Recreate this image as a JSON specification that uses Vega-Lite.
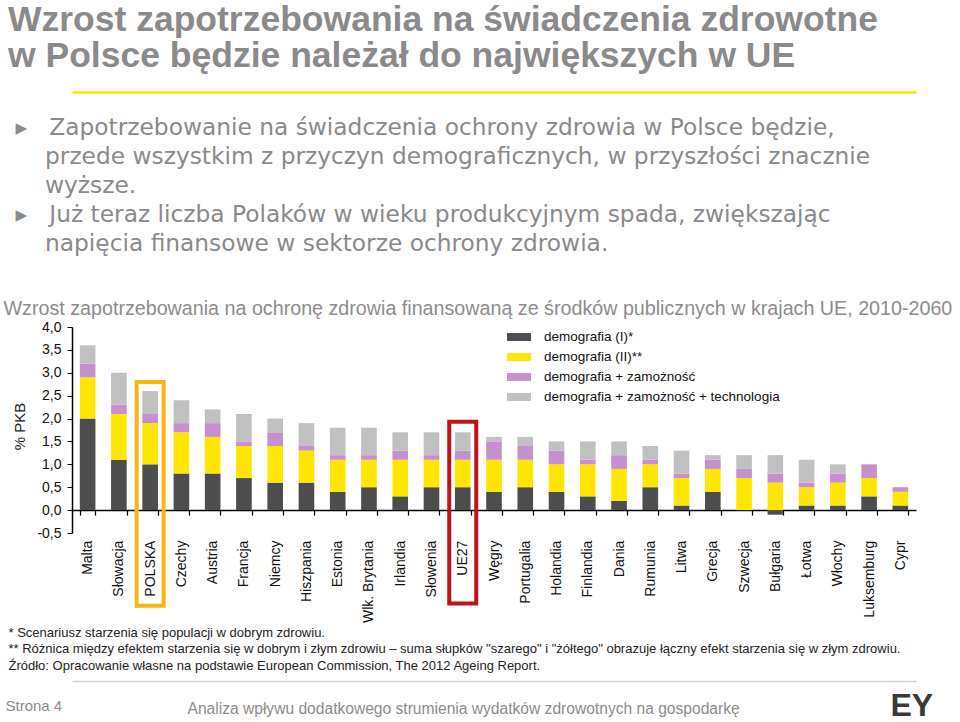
{
  "$schema": "https://vega.github.io/schema/vega-lite/v6.json",
  "width": 844,
  "height": 206,
  "autosize": {"type": "none"},
  "padding": {"left": 72, "top": 327, "right": 44, "bottom": 189},
  "background": "white",
  "config": {"view": {"stroke": null}, "font": "Liberation Sans"},
  "title": {
    "text": ["Wzrost zapotrzebowania na świadczenia zdrowotne", "w Polsce będzie należał do największych w UE"],
    "subtitle": [
      "\u200b\u00a0▸\u00a0\u00a0\u00a0Zapotrzebowanie na świadczenia ochrony zdrowia w Polsce będzie,",
      "\u200b\u00a0\u00a0\u00a0\u00a0\u00a0przede wszystkim z przyczyn demograficznych, w przyszłości znacznie",
      "\u200b\u00a0\u00a0\u00a0\u00a0\u00a0wyższe.",
      "\u200b\u00a0▸\u00a0\u00a0\u00a0Już teraz liczba Polaków w wieku produkcyjnym spada, zwiększając",
      "\u200b\u00a0\u00a0\u00a0\u00a0\u00a0napięcia finansowe w sektorze ochrony zdrowia."
    ],
    "anchor": "start",
    "frame": "group",
    "orient": "top",
    "font": "Liberation Sans",
    "fontSize": 35.5,
    "fontWeight": "bold",
    "color": "#8A8A8A",
    "lineHeight": 36,
    "subtitleFont": "DejaVu Sans",
    "subtitleFontSize": 23.3,
    "subtitleFontWeight": "normal",
    "subtitleColor": "#8A8A8A",
    "subtitleLineHeight": 29,
    "subtitlePadding": 42,
    "dx": -64,
    "offset": -163
  },
  "data": {
    "values": [
      {"kraj": "Malta", "seria": "demografia (I)*", "wartosc": 2.0},
      {"kraj": "Malta", "seria": "demografia (II)**", "wartosc": 0.9},
      {"kraj": "Malta", "seria": "demografia + zamożność", "wartosc": 0.3},
      {"kraj": "Malta", "seria": "demografia + zamożność + technologia", "wartosc": 0.4},
      {"kraj": "Słowacja", "seria": "demografia (I)*", "wartosc": 1.1},
      {"kraj": "Słowacja", "seria": "demografia (II)**", "wartosc": 1.0},
      {"kraj": "Słowacja", "seria": "demografia + zamożność", "wartosc": 0.2},
      {"kraj": "Słowacja", "seria": "demografia + zamożność + technologia", "wartosc": 0.7},
      {"kraj": "POLSKA", "seria": "demografia (I)*", "wartosc": 1.0},
      {"kraj": "POLSKA", "seria": "demografia (II)**", "wartosc": 0.9},
      {"kraj": "POLSKA", "seria": "demografia + zamożność", "wartosc": 0.2},
      {"kraj": "POLSKA", "seria": "demografia + zamożność + technologia", "wartosc": 0.5},
      {"kraj": "Czechy", "seria": "demografia (I)*", "wartosc": 0.8},
      {"kraj": "Czechy", "seria": "demografia (II)**", "wartosc": 0.9},
      {"kraj": "Czechy", "seria": "demografia + zamożność", "wartosc": 0.2},
      {"kraj": "Czechy", "seria": "demografia + zamożność + technologia", "wartosc": 0.5},
      {"kraj": "Austria", "seria": "demografia (I)*", "wartosc": 0.8},
      {"kraj": "Austria", "seria": "demografia (II)**", "wartosc": 0.8},
      {"kraj": "Austria", "seria": "demografia + zamożność", "wartosc": 0.3},
      {"kraj": "Austria", "seria": "demografia + zamożność + technologia", "wartosc": 0.3},
      {"kraj": "Francja", "seria": "demografia (I)*", "wartosc": 0.7},
      {"kraj": "Francja", "seria": "demografia (II)**", "wartosc": 0.7},
      {"kraj": "Francja", "seria": "demografia + zamożność", "wartosc": 0.1},
      {"kraj": "Francja", "seria": "demografia + zamożność + technologia", "wartosc": 0.6},
      {"kraj": "Niemcy", "seria": "demografia (I)*", "wartosc": 0.6},
      {"kraj": "Niemcy", "seria": "demografia (II)**", "wartosc": 0.8},
      {"kraj": "Niemcy", "seria": "demografia + zamożność", "wartosc": 0.3},
      {"kraj": "Niemcy", "seria": "demografia + zamożność + technologia", "wartosc": 0.3},
      {"kraj": "Hiszpania", "seria": "demografia (I)*", "wartosc": 0.6},
      {"kraj": "Hiszpania", "seria": "demografia (II)**", "wartosc": 0.7},
      {"kraj": "Hiszpania", "seria": "demografia + zamożność", "wartosc": 0.1},
      {"kraj": "Hiszpania", "seria": "demografia + zamożność + technologia", "wartosc": 0.5},
      {"kraj": "Estonia", "seria": "demografia (I)*", "wartosc": 0.4},
      {"kraj": "Estonia", "seria": "demografia (II)**", "wartosc": 0.7},
      {"kraj": "Estonia", "seria": "demografia + zamożność", "wartosc": 0.1},
      {"kraj": "Estonia", "seria": "demografia + zamożność + technologia", "wartosc": 0.6},
      {"kraj": "Wlk. Brytania", "seria": "demografia (I)*", "wartosc": 0.5},
      {"kraj": "Wlk. Brytania", "seria": "demografia (II)**", "wartosc": 0.6},
      {"kraj": "Wlk. Brytania", "seria": "demografia + zamożność", "wartosc": 0.1},
      {"kraj": "Wlk. Brytania", "seria": "demografia + zamożność + technologia", "wartosc": 0.6},
      {"kraj": "Irlandia", "seria": "demografia (I)*", "wartosc": 0.3},
      {"kraj": "Irlandia", "seria": "demografia (II)**", "wartosc": 0.8},
      {"kraj": "Irlandia", "seria": "demografia + zamożność", "wartosc": 0.2},
      {"kraj": "Irlandia", "seria": "demografia + zamożność + technologia", "wartosc": 0.4},
      {"kraj": "Słowenia", "seria": "demografia (I)*", "wartosc": 0.5},
      {"kraj": "Słowenia", "seria": "demografia (II)**", "wartosc": 0.6},
      {"kraj": "Słowenia", "seria": "demografia + zamożność", "wartosc": 0.1},
      {"kraj": "Słowenia", "seria": "demografia + zamożność + technologia", "wartosc": 0.5},
      {"kraj": "UE27", "seria": "demografia (I)*", "wartosc": 0.5},
      {"kraj": "UE27", "seria": "demografia (II)**", "wartosc": 0.6},
      {"kraj": "UE27", "seria": "demografia + zamożność", "wartosc": 0.2},
      {"kraj": "UE27", "seria": "demografia + zamożność + technologia", "wartosc": 0.4},
      {"kraj": "Węgry", "seria": "demografia (I)*", "wartosc": 0.4},
      {"kraj": "Węgry", "seria": "demografia (II)**", "wartosc": 0.7},
      {"kraj": "Węgry", "seria": "demografia + zamożność", "wartosc": 0.4},
      {"kraj": "Węgry", "seria": "demografia + zamożność + technologia", "wartosc": 0.1},
      {"kraj": "Portugalia", "seria": "demografia (I)*", "wartosc": 0.5},
      {"kraj": "Portugalia", "seria": "demografia (II)**", "wartosc": 0.6},
      {"kraj": "Portugalia", "seria": "demografia + zamożność", "wartosc": 0.3},
      {"kraj": "Portugalia", "seria": "demografia + zamożność + technologia", "wartosc": 0.2},
      {"kraj": "Holandia", "seria": "demografia (I)*", "wartosc": 0.4},
      {"kraj": "Holandia", "seria": "demografia (II)**", "wartosc": 0.6},
      {"kraj": "Holandia", "seria": "demografia + zamożność", "wartosc": 0.3},
      {"kraj": "Holandia", "seria": "demografia + zamożność + technologia", "wartosc": 0.2},
      {"kraj": "Finlandia", "seria": "demografia (I)*", "wartosc": 0.3},
      {"kraj": "Finlandia", "seria": "demografia (II)**", "wartosc": 0.7},
      {"kraj": "Finlandia", "seria": "demografia + zamożność", "wartosc": 0.1},
      {"kraj": "Finlandia", "seria": "demografia + zamożność + technologia", "wartosc": 0.4},
      {"kraj": "Dania", "seria": "demografia (I)*", "wartosc": 0.2},
      {"kraj": "Dania", "seria": "demografia (II)**", "wartosc": 0.7},
      {"kraj": "Dania", "seria": "demografia + zamożność", "wartosc": 0.3},
      {"kraj": "Dania", "seria": "demografia + zamożność + technologia", "wartosc": 0.3},
      {"kraj": "Rumunia", "seria": "demografia (I)*", "wartosc": 0.5},
      {"kraj": "Rumunia", "seria": "demografia (II)**", "wartosc": 0.5},
      {"kraj": "Rumunia", "seria": "demografia + zamożność", "wartosc": 0.1},
      {"kraj": "Rumunia", "seria": "demografia + zamożność + technologia", "wartosc": 0.3},
      {"kraj": "Litwa", "seria": "demografia (I)*", "wartosc": 0.1},
      {"kraj": "Litwa", "seria": "demografia (II)**", "wartosc": 0.6},
      {"kraj": "Litwa", "seria": "demografia + zamożność", "wartosc": 0.1},
      {"kraj": "Litwa", "seria": "demografia + zamożność + technologia", "wartosc": 0.5},
      {"kraj": "Grecja", "seria": "demografia (I)*", "wartosc": 0.4},
      {"kraj": "Grecja", "seria": "demografia (II)**", "wartosc": 0.5},
      {"kraj": "Grecja", "seria": "demografia + zamożność", "wartosc": 0.2},
      {"kraj": "Grecja", "seria": "demografia + zamożność + technologia", "wartosc": 0.1},
      {"kraj": "Szwecja", "seria": "demografia (I)*", "wartosc": 0.0},
      {"kraj": "Szwecja", "seria": "demografia (II)**", "wartosc": 0.7},
      {"kraj": "Szwecja", "seria": "demografia + zamożność", "wartosc": 0.2},
      {"kraj": "Szwecja", "seria": "demografia + zamożność + technologia", "wartosc": 0.3},
      {"kraj": "Bułgaria", "seria": "demografia (I)*", "wartosc": -0.1},
      {"kraj": "Bułgaria", "seria": "demografia (II)**", "wartosc": 0.6},
      {"kraj": "Bułgaria", "seria": "demografia + zamożność", "wartosc": 0.2},
      {"kraj": "Bułgaria", "seria": "demografia + zamożność + technologia", "wartosc": 0.4},
      {"kraj": "Łotwa", "seria": "demografia (I)*", "wartosc": 0.1},
      {"kraj": "Łotwa", "seria": "demografia (II)**", "wartosc": 0.4},
      {"kraj": "Łotwa", "seria": "demografia + zamożność", "wartosc": 0.1},
      {"kraj": "Łotwa", "seria": "demografia + zamożność + technologia", "wartosc": 0.5},
      {"kraj": "Włochy", "seria": "demografia (I)*", "wartosc": 0.1},
      {"kraj": "Włochy", "seria": "demografia (II)**", "wartosc": 0.5},
      {"kraj": "Włochy", "seria": "demografia + zamożność", "wartosc": 0.2},
      {"kraj": "Włochy", "seria": "demografia + zamożność + technologia", "wartosc": 0.2},
      {"kraj": "Luksemburg", "seria": "demografia (I)*", "wartosc": 0.3},
      {"kraj": "Luksemburg", "seria": "demografia (II)**", "wartosc": 0.4},
      {"kraj": "Luksemburg", "seria": "demografia + zamożność", "wartosc": 0.3},
      {"kraj": "Luksemburg", "seria": "demografia + zamożność + technologia", "wartosc": 0.0},
      {"kraj": "Cypr", "seria": "demografia (I)*", "wartosc": 0.1},
      {"kraj": "Cypr", "seria": "demografia (II)**", "wartosc": 0.3},
      {"kraj": "Cypr", "seria": "demografia + zamożność", "wartosc": 0.1},
      {"kraj": "Cypr", "seria": "demografia + zamożność + technologia", "wartosc": 0.0}
    ]
  },
  "layer": [
    {
      "mark": {"type": "bar"},
      "encoding": {
        "x": {
          "field": "kraj", "type": "nominal", "sort": null,
          "scale": {"paddingInner": 0.5, "paddingOuter": 0.25},
          "axis": {
            "orient": "bottom", "offset": -22.9, "grid": false,
            "domainColor": "#000000", "domainWidth": 1.5,
            "tickColor": "#000000", "tickWidth": 1.2, "tickSize": 5, "tickBand": "extent",
            "labelAngle": -90, "labelFontSize": 14, "labelColor": "#111111", "labelPadding": 25,
            "labelAlign": "right", "labelBaseline": "middle", "labelLimit": 200,
            "title": [
              "* Scenariusz starzenia się populacji w dobrym zdrowiu.",
              "** Różnica między efektem starzenia się w dobrym i złym zdrowiu – suma słupków \"szarego\" i \"żółtego\" obrazuje łączny efekt starzenia się w złym zdrowiu.",
              "Źródło: Opracowanie własne na podstawie European Commission, The 2012 Ageing Report."
            ],
            "titleFontSize": 13, "titleFontWeight": "normal", "titleColor": "#222222",
            "titleX": -64, "titleY": 116, "titleAlign": "left", "titleAnchor": "start",
            "titleBaseline": "top", "titleLineHeight": 16.5
          }
        },
        "y": {
          "field": "wartosc", "type": "quantitative", "stack": "zero",
          "scale": {"domain": [-0.5, 4], "nice": false},
          "axis": {
            "orient": "left", "grid": false,
            "values": [-0.5, 0, 0.5, 1, 1.5, 2, 2.5, 3, 3.5, 4],
            "labelExpr": "replace(replace(format(datum.value, '.1f'), '.', ','), '−', '-')",
            "labelFontSize": 14, "labelColor": "#111111", "labelPadding": 6,
            "tickSize": 5, "tickColor": "#000000", "domainColor": "#000000", "domainWidth": 1.5,
            "title": "% PKB", "titleFontSize": 15, "titleFontWeight": "normal", "titleColor": "#222222",
            "titleX": -53, "titleY": 99, "titleAngle": -90, "titleAlign": "center", "titleBaseline": "middle"
          }
        },
        "color": {
          "field": "seria", "type": "nominal",
          "scale": {
            "domain": ["demografia (I)*", "demografia (II)**", "demografia + zamożność", "demografia + zamożność + technologia"],
            "range": ["#4D4D4D", "#FFE600", "#C490CE", "#C0C0C0"]
          },
          "legend": {
            "orient": "none", "legendX": 435, "legendY": -2, "title": null, "padding": 0,
            "symbolType": "M-1,-0.33H1V0.33H-1Z", "symbolSize": 576, "symbolStrokeWidth": 0,
            "labelFontSize": 13.5, "labelColor": "#111111", "labelOffset": 13, "rowPadding": 1, "labelLimit": 400
          }
        },
        "order": {"field": "seria", "sort": "ascending"}
      }
    },
    {
      "data": {"values": [{"kraj": "POLSKA", "gora": 2.8, "dol": -2.09}]},
      "mark": {"type": "bar", "width": 27, "fillOpacity": 0, "stroke": "#F7B512", "strokeWidth": 4},
      "encoding": {
        "x": {
          "field": "kraj", "type": "nominal", "sort": null,
          "scale": {"paddingInner": 0.5, "paddingOuter": 0.25},
          "axis": {
            "orient": "top", "offset": 235, "labels": false, "ticks": false, "grid": false,
            "domainColor": "#FFE600", "domainWidth": 2.5,
            "title": "Wzrost zapotrzebowania na ochronę zdrowia finansowaną ze środków publicznych w krajach UE, 2010-2060",
            "titleFontSize": 19.7, "titleFontWeight": "normal", "titleColor": "#8C8C8C",
            "titleX": -69, "titleY": 216, "titleAlign": "left", "titleAnchor": "start", "titleBaseline": "middle"
          }
        },
        "y": {
          "field": "gora", "type": "quantitative",
          "scale": {"domain": [-0.5, 4], "nice": false},
          "axis": {
            "orient": "left", "domain": false, "ticks": false, "labels": false, "grid": false,
            "title": "Strona 4", "titleFontSize": 15, "titleFontWeight": "normal", "titleColor": "#8C8C8C",
            "titleAngle": 0, "titleX": -67, "titleY": 378, "titleAlign": "left", "titleBaseline": "middle"
          }
        },
        "y2": {"field": "dol"}
      }
    },
    {
      "data": {"values": [{"kraj": "UE27", "gora": 1.93, "dol": -2.04}]},
      "mark": {"type": "bar", "width": 27, "fillOpacity": 0, "stroke": "#C0141C", "strokeWidth": 4},
      "encoding": {
        "x": {
          "field": "kraj", "type": "nominal", "sort": null,
          "scale": {"paddingInner": 0.5, "paddingOuter": 0.25},
          "axis": {
            "orient": "bottom", "offset": 148, "labels": false, "ticks": false, "grid": false,
            "domainColor": "#D0D0D0", "domainWidth": 1.5,
            "title": "Analiza wpływu dodatkowego strumienia wydatków zdrowotnych na gospodarkę",
            "titleFontSize": 15.6, "titleFontWeight": "normal", "titleColor": "#8C8C8C",
            "titleX": 115, "titleY": 27, "titleAlign": "left", "titleAnchor": "start", "titleBaseline": "middle"
          }
        },
        "y": {
          "field": "gora", "type": "quantitative",
          "scale": {"domain": [-0.5, 4], "nice": false},
          "axis": {
            "orient": "right", "domain": false, "ticks": false, "labels": false, "grid": false,
            "title": "EY", "titleFontSize": 32, "titleFontWeight": "bold", "titleColor": "#3A3A3A",
            "titleAngle": 0, "titleX": -26, "titleY": 388, "titleAlign": "left", "titleBaseline": "alphabetic"
          }
        },
        "y2": {"field": "dol"}
      }
    }
  ],
  "resolve": {"axis": {"x": "independent", "y": "independent"}}
}
